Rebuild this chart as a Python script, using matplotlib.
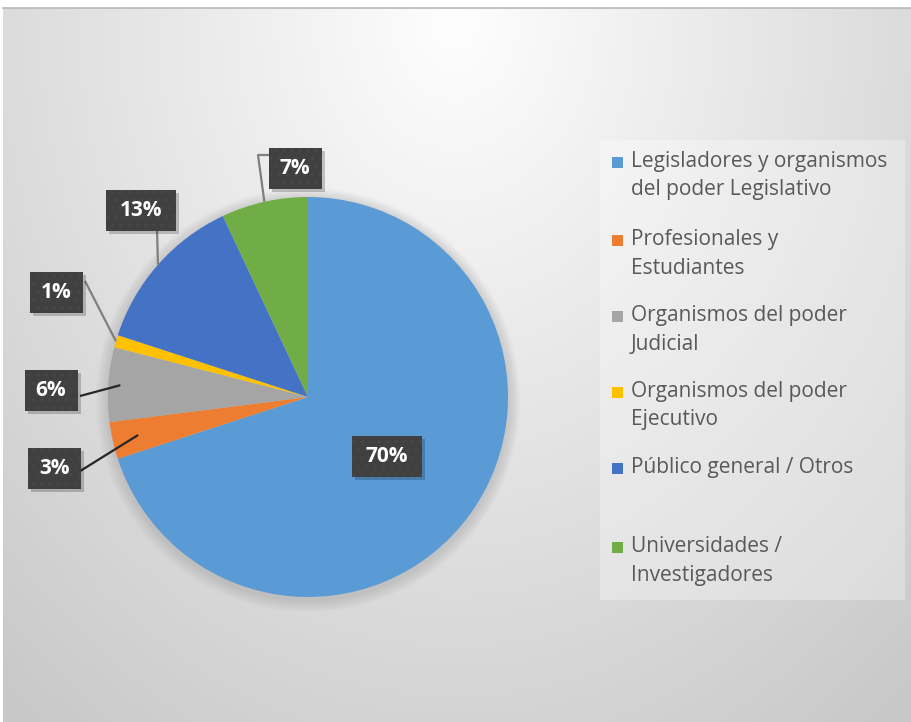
import numpy as np
import matplotlib.pyplot as plt
from matplotlib.patches import Rectangle, Circle

# datos
categorias = ['Legisladores y organismos\ndel poder Legislativo',
              'Profesionales y\nEstudiantes',
              'Organismos del poder\nJudicial',
              'Organismos del poder\nEjecutivo',
              'Público general / Otros',
              'Universidades /\nInvestigadores']
porcentajes = [70, 3, 6, 1, 13, 7]
colores = ['#5B9BD5', '#ED7D31', '#A5A5A5', '#FFC000', '#4472C4', '#70AD47']

W, H = 911, 722
fig = plt.figure(figsize=(W / 100, H / 100), dpi=100, facecolor='white')
ax = fig.add_axes([0, 0, 1, 1])

# fondo degradado (coordenadas en pixeles, y hacia arriba)
top = 8
py, px = np.mgrid[top:H, 3:W]
d = np.sqrt(((px - 455) / 600.0) ** 2 + ((py - 20) / 760.0) ** 2)
v = np.clip(254 - 46 * d, 200, 255) / 255.0
ax.imshow(np.dstack([v, v, v]), extent=[3, W, 0, H - top],
          origin='upper', zorder=0, aspect='auto', interpolation='bilinear')
ax.plot([3, W], [H - top, H - top], color='#b8b8b8', lw=1.2, zorder=1)

cx, cy, R = 308, H - 397, 200

# sombra suave
for i in range(12):
    ax.add_patch(Circle((cx, cy - 3), R + 12 - i, fc='#808080', ec='none',
                        alpha=0.025, zorder=1))

ax.pie(porcentajes, colors=colores, startangle=90, counterclock=False,
       center=(cx, cy), radius=R, wedgeprops=dict(linewidth=0, zorder=2))

ax.set_xlim(0, W)
ax.set_ylim(0, H)
ax.set_aspect('equal')
ax.axis('off')

# etiquetas de datos
lab_pos = [(387, 456), (54, 468), (51, 390), (56, 292), (141, 210), (295, 168)]
line_start = [None, [(77, 473)], [(80, 396)], [(85, 281)], [(157, 230)],
              [(270, 155), (258, 155)]]
line_r = [0, 0.87, 0.94, 1.0, 1.0, 1.0]
line_col = [None, '#262626', '#262626', '#7f7f7f', '#7f7f7f', '#7f7f7f']

acum = 0
for i, p in enumerate(porcentajes):
    mid = np.deg2rad(90 - 360 * (acum + p / 2) / 100)
    acum += p
    if line_start[i] is not None:
        xs = [q[0] for q in line_start[i]]
        ys = [H - q[1] for q in line_start[i]]
        xs.append(cx + line_r[i] * R * np.cos(mid))
        ys.append(cy + line_r[i] * R * np.sin(mid))
        ax.plot(xs, ys, color=line_col[i], lw=1.6, zorder=3,
                solid_capstyle='butt')
    lx, ly = lab_pos[i]
    txt = f'{p}%'
    bw, bh = 36 + 17 * (len(txt) - 1), 41
    ax.add_patch(Rectangle((lx - bw / 2 + 3, H - ly - bh / 2 - 3), bw, bh,
                           fc='black', ec='none', alpha=0.2, zorder=4))
    ax.add_patch(Rectangle((lx - bw / 2, H - ly - bh / 2), bw, bh,
                           fc='#404040', ec='#474747', lw=0, hatch='..',
                           zorder=4.5))
    ax.text(lx, H - ly, txt, ha='center', va='center', color='white',
            fontsize=15, fontweight='bold', family='Open Sans', zorder=5)

# leyenda
ax.add_patch(Rectangle((600, H - 600), 305, 460, fc='white', ec='none',
                       alpha=0.3, zorder=1))
leg_y = [162, 240, 316, 392, 468, 547]
for i, cat in enumerate(categorias):
    y0 = leg_y[i]
    ax.add_patch(Rectangle((612, H - y0 - 5.5), 11, 11, fc=colores[i],
                           ec='none', zorder=4))
    for k, linea in enumerate(cat.split('\n')):
        ax.text(631, H - (y0 + 28 * k), linea, ha='left', va='center',
                color='#595959', fontsize=15, family='Open Sans', zorder=4)

fig.savefig('out.png', dpi=100, facecolor='white')
